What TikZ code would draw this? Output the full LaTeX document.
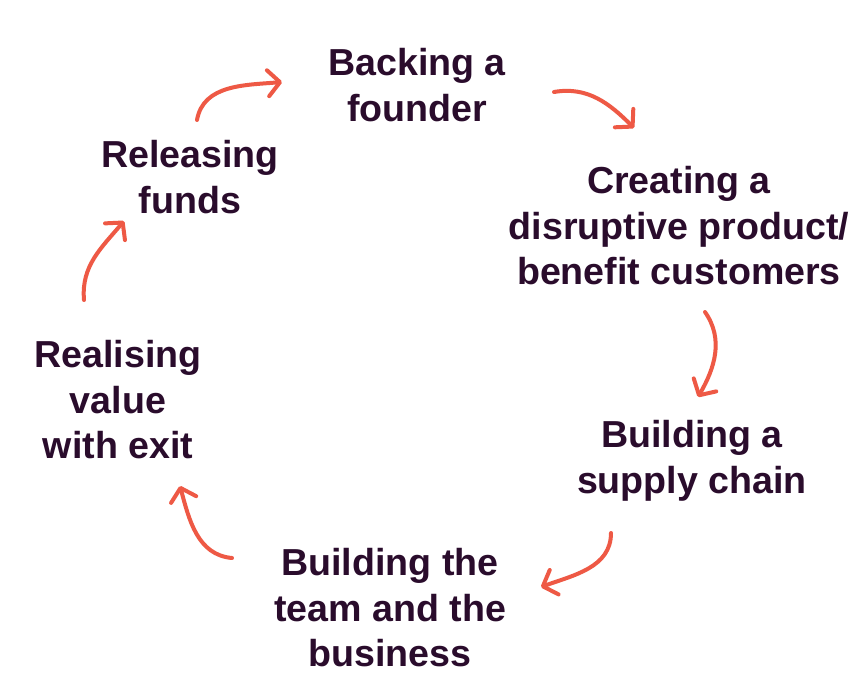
\documentclass[tikz,border=0pt]{standalone}
\usepackage{fontspec}
\setmainfont{Liberation Sans}
\usetikzlibrary{arrows.meta}
\definecolor{ink}{HTML}{2A0C2C}
\definecolor{coral}{HTML}{EE5945}
\begin{document}
\begin{tikzpicture}[x=1pt,y=-1pt,
  stage/.style={text=ink, font=\bfseries\fontsize{37.6}{45.5}\selectfont, align=center, inner sep=0pt},
  cyclearrow/.style={draw=coral, line width=4pt, line cap=round,
    -{Straight Barb[length=12pt, width=26pt, line width=4pt, round]}}]
  \useasboundingbox (0,0) rectangle (868,697);
  \fill[white] (0,0) rectangle (868,697);

  % stages of the cycle
  \node[stage] (back)  at (417,85)  {Backing a\\founder};
  \node[stage] (create) at (679,226) {Creating a\\disruptive product/\\benefit customers};
  \node[stage] (supply) at (692,461) {Building a\\supply chain};
  \node[stage] (team)  at (390,608) {Building the\\team and the\\business};
  \node[stage] (exit)  at (118,400) {Realising\\value\\with exit};
  \node[stage] (release) at (190,177) {Releasing\\funds};

  % arrow end points
  \coordinate (a1s) at (197,120); \coordinate (a1e) at (282,82);
  \coordinate (a2s) at (554,92);  \coordinate (a2e) at (634,128);
  \coordinate (a3s) at (705,312); \coordinate (a3e) at (698,397);
  \coordinate (a4s) at (611,533); \coordinate (a4e) at (541,587);
  \coordinate (a5s) at (232,558); \coordinate (a5e) at (180,486);
  \coordinate (a6s) at (84,300);  \coordinate (a6e) at (124,221);

  % connecting arrows
  \draw[cyclearrow] (a1s) to[out=80, in=185] (a1e);
  \draw[cyclearrow] (a2s) to[out=10, in=135] (a2e);
  \draw[cyclearrow] (a3s) to[out=-55, in=60] (a3e);
  \draw[cyclearrow] (a4s) to[out=-90, in=20] (a4e);
  \draw[cyclearrow] (a5s) to[out=175, in=-75] (a5e);
  \draw[cyclearrow] (a6s) to[out=95, in=-130] (a6e);
\end{tikzpicture}
\end{document}
